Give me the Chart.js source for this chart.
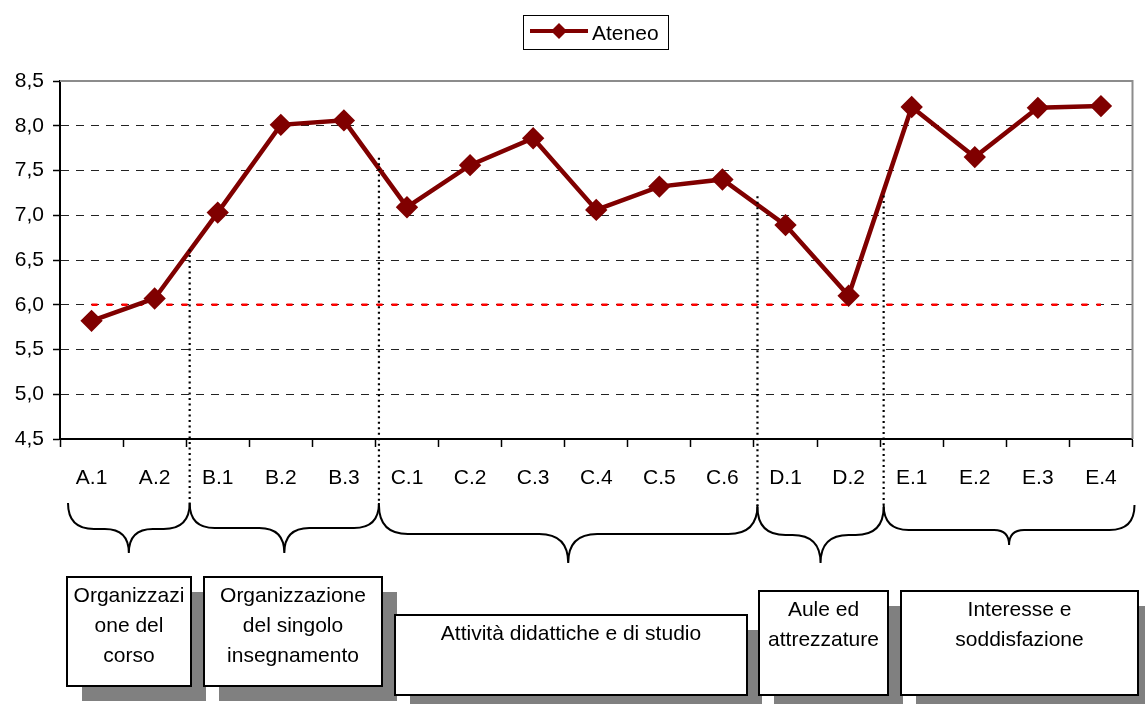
<!DOCTYPE html>
<html lang="it">
<head>
<meta charset="UTF-8">
<title>Ateneo</title>
<style>
  html, body { margin: 0; padding: 0; background: #fff; }
  #wrap { width: 1145px; height: 704px; position: relative; }
</style>
</head>
<body>
<div id="wrap"><canvas id="chart" width="1145" height="704"></canvas></div>
<script src="https://cdn.jsdelivr.net/npm/chart.js"></script>
<script>
// data
const categories = ["A.1", "A.2", "B.1", "B.2", "B.3", "C.1", "C.2", "C.3", "C.4", "C.5", "C.6", "D.1", "D.2", "E.1", "E.2", "E.3", "E.4"];
const ateneo = [5.82, 6.07, 7.03, 8.01, 8.06, 7.09, 7.56, 7.86, 7.06, 7.32, 7.40, 6.89, 6.10, 8.21, 7.65, 8.20, 8.22];
const soglia = [6, 6, 6, 6, 6, 6, 6, 6, 6, 6, 6, 6, 6, 6, 6, 6, 6];
const yMin = 4.5, yMax = 8.5, yStep = 0.5;

// groups of categories (first index) and their captions
const groupFirst = [0, 2, 5, 11, 13];
const groupLabels = [
  ["Organizzazi", "one del", "corso"],
  ["Organizzazione", "del singolo", "insegnamento"],
  ["Attività didattiche e di studio"],
  ["Aule ed", "attrezzature"],
  ["Interesse e", "soddisfazione"]
];

// layout of the annotation drawing below the axis
const braces = [
  { top: 503, mid: 529, tip: 553 },
  { top: 503, mid: 528, tip: 553 },
  { top: 505, mid: 534, tip: 563 },
  { top: 507, mid: 535, tip: 563 },
  { top: 505, mid: 530, tip: 545 }
];
const boxes = [
  { x: 67, y: 577, w: 124, h: 109, ty: 596 },
  { x: 204, y: 577, w: 178, h: 109, ty: 596 },
  { x: 395, y: 615, w: 352, h: 80, ty: 634 },
  { x: 759, y: 591, w: 129, h: 104, ty: 610 },
  { x: 901, y: 591, w: 237, h: 104, ty: 610 }
];

const FONT = "'Liberation Sans', Arial, sans-serif";
const FSIZE = 21;
const DARK_RED = "#800000";

function drawBrace(ctx, x1, x2, b) {
  const r1 = b.mid - b.top;
  const r2 = b.tip - b.mid;
  const xt = (x1 + x2) / 2;
  ctx.beginPath();
  ctx.moveTo(x1, b.top);
  ctx.quadraticCurveTo(x1, b.mid, x1 + r1, b.mid);
  ctx.lineTo(xt - r2, b.mid);
  ctx.quadraticCurveTo(xt, b.mid, xt, b.tip);
  ctx.quadraticCurveTo(xt, b.mid, xt + r2, b.mid);
  ctx.lineTo(x2 - r1, b.mid);
  ctx.quadraticCurveTo(x2, b.mid, x2, b.top);
  ctx.stroke();
}

const decorations = {
  id: "decorations",
  afterDraw(chart) {
    const ctx = chart.ctx;
    const xs = chart.scales.x;
    const ys = chart.scales.y;
    const area = chart.chartArea;
    ctx.save();

    // frame: grey top and right border
    ctx.strokeStyle = "#8c8c8c";
    ctx.lineWidth = 2;
    ctx.beginPath();
    ctx.moveTo(area.left, area.top);
    ctx.lineTo(area.right, area.top);
    ctx.lineTo(area.right, area.bottom);
    ctx.stroke();

    // boundaries between groups (drawn a little right of the tick marks)
    const bounds = [area.left + 8];
    for (let g = 1; g < groupFirst.length; g++) {
      const i = groupFirst[g];
      bounds.push((xs.getPixelForValue(i - 1) + xs.getPixelForValue(i)) / 2 + 3.5);
    }
    bounds.push(area.right + 2);

    // dotted separators from the line down to the braces
    ctx.strokeStyle = "#000";
    ctx.lineWidth = 2.2;
    ctx.setLineDash([2, 3.5]);
    for (let g = 1; g < groupFirst.length; g++) {
      const i = groupFirst[g];
      const v = (ateneo[i - 1] + ateneo[i]) / 2;
      ctx.beginPath();
      ctx.moveTo(bounds[g], ys.getPixelForValue(v) - 6);
      ctx.lineTo(bounds[g], braces[g].top);
      ctx.stroke();
    }
    ctx.setLineDash([]);

    // braces
    ctx.lineWidth = 2;
    for (let g = 0; g < braces.length; g++) {
      drawBrace(ctx, bounds[g], bounds[g + 1], braces[g]);
    }

    // caption boxes with shadow
    ctx.font = FSIZE + "px " + FONT;
    ctx.textAlign = "center";
    ctx.textBaseline = "middle";
    boxes.forEach((b, g) => {
      ctx.fillStyle = "#808080";
      ctx.fillRect(b.x + 15, b.y + 15, b.w, b.h);
      ctx.fillStyle = "#fff";
      ctx.fillRect(b.x, b.y, b.w, b.h);
      ctx.strokeStyle = "#000";
      ctx.lineWidth = 2;
      ctx.strokeRect(b.x, b.y, b.w, b.h);
      ctx.fillStyle = "#000";
      groupLabels[g].forEach((t, k) => {
        ctx.fillText(t, b.x + b.w / 2, b.ty + k * 30);
      });
    });

    // legend
    ctx.strokeStyle = "#000";
    ctx.lineWidth = 1;
    ctx.strokeRect(523.5, 15.5, 145, 34);
    ctx.strokeStyle = DARK_RED;
    ctx.lineWidth = 4;
    ctx.beginPath();
    ctx.moveTo(530, 31);
    ctx.lineTo(588, 31);
    ctx.stroke();
    ctx.fillStyle = DARK_RED;
    ctx.beginPath();
    ctx.moveTo(559, 23);
    ctx.lineTo(567, 31);
    ctx.lineTo(559, 39);
    ctx.lineTo(551, 31);
    ctx.closePath();
    ctx.fill();
    ctx.fillStyle = "#000";
    ctx.textAlign = "left";
    ctx.fillText("Ateneo", 592, 34);

    ctx.restore();
  }
};

new Chart(document.getElementById("chart"), {
  type: "line",
  data: {
    labels: categories,
    datasets: [
      {
        label: "Ateneo",
        data: ateneo,
        borderColor: DARK_RED,
        backgroundColor: DARK_RED,
        borderWidth: 4.5,
        pointStyle: "rectRot",
        pointRadius: 8,
        pointHoverRadius: 8,
        tension: 0
      },
      {
        label: "6",
        data: soglia,
        borderColor: "#ff0000",
        borderWidth: 2.5,
        borderDash: [6, 9],
        pointRadius: 0,
        tension: 0
      }
    ]
  },
  options: {
    responsive: false,
    animation: false,
    layout: { padding: { top: 81, right: 9, left: 0, bottom: 0 } },
    plugins: {
      legend: { display: false },
      tooltip: { enabled: false }
    },
    scales: {
      x: {
        offset: true,
        grid: {
          offset: true,
          drawOnChartArea: false,
          tickLength: 8,
          tickColor: "#000",
          tickWidth: 1.5
        },
        border: { color: "#000", width: 2 },
        ticks: {
          color: "#000",
          font: { family: FONT, size: FSIZE },
          padding: 19,
          maxRotation: 0,
          autoSkip: false
        },
        afterFit(scale) { scale.height = 265; }
      },
      y: {
        min: yMin,
        max: yMax,
        grid: {
          color: (c) => (c.tick && (c.tick.value === yMin || c.tick.value === yMax)) ? "rgba(0,0,0,0)" : "#222",
          lineWidth: 1,
          tickLength: 7,
          tickColor: "#000",
          tickWidth: 1.5,
          tickBorderDash: []
        },
        border: { color: "#000", width: 2, dash: [8, 7] },
        ticks: {
          stepSize: yStep,
          color: "#000",
          font: { family: FONT, size: FSIZE },
          padding: 9,
          callback: (v) => v.toFixed(1).replace(".", ",")
        },
        afterFit(scale) { scale.width = 60; }
      }
    }
  },
  plugins: [decorations]
});
</script>
</body>
</html>
